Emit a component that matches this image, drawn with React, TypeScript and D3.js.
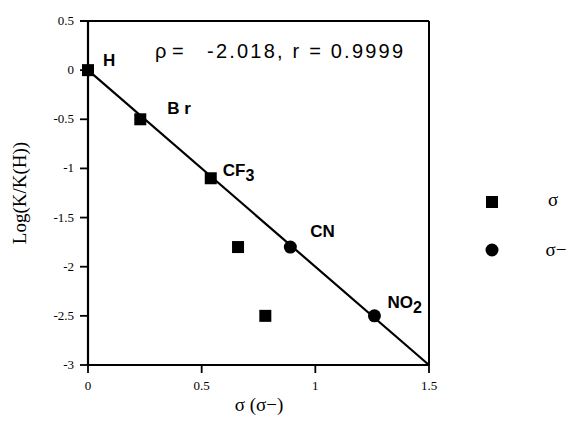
import React from "react";
import * as d3 from "d3";

const sigmaX = [0, 0.23, 0.54, 0.66, 0.78];
const sigmaY = [0, -0.5, -1.1, -1.8, -2.5];
const sigmaMinusX = [0.89, 1.26];
const sigmaMinusY = [-1.8, -2.5];
const lineX = [0, 1.5];
const lineY = [0, -3];
const xTicks = [0, 0.5, 1, 1.5];
const yTicks = [0.5, 0, -0.5, -1, -1.5, -2, -2.5, -3];
const pointLabels = [
  { x: 0, y: 0, text: "H", sub: "" },
  { x: 0.23, y: -0.5, text: "B r", sub: "" },
  { x: 0.54, y: -1.1, text: "CF", sub: "3" },
  { x: 0.89, y: -1.8, text: "CN", sub: "" },
  { x: 1.26, y: -2.5, text: "NO", sub: "2" },
];
const labelOffsets = [
  [15, -4],
  [27, -5],
  [12, -2],
  [20, -10],
  [13, -8],
];

export default function App() {
  const W = 574, H = 427;
  const x = d3.scaleLinear().domain([0, 1.5]).range([88, 429]);
  const y = d3.scaleLinear().domain([-3, 0.5]).range([365, 21]);
  const serif = "'Liberation Serif', 'Times New Roman', serif";
  const sans = "'Liberation Sans', Arial, sans-serif";
  const line = d3.line<number>().x((d, i) => x(lineX[i])).y((d, i) => y(lineY[i]));
  const fmt = (v: number) => (v === 0 ? "0" : String(v));
  return (
    <svg width={W} height={H} style={{ position: "absolute", left: 0, top: 0, background: "#fff" }}>
      <rect x={0} y={0} width={W} height={H} fill="#fff" />
      {/* frame */}
      <line x1={x(0) - 8} y1={y(0.5)} x2={x(1.5)} y2={y(0.5)} stroke="#000" strokeWidth={2} />
      <line x1={x(1.5)} y1={y(0.5)} x2={x(1.5)} y2={y(-3)} stroke="#000" strokeWidth={2} />
      <line x1={x(0)} y1={y(0.5)} x2={x(0)} y2={y(-3)} stroke="#000" strokeWidth={2.2} />
      <line x1={x(0)} y1={y(-3)} x2={x(1.5)} y2={y(-3)} stroke="#000" strokeWidth={2.2} />
      {/* y ticks */}
      {yTicks.map((t) => (
        <g key={"y" + t}>
          <line x1={x(0) - 8} x2={x(0)} y1={y(t)} y2={y(t)} stroke="#000" strokeWidth={1.8} />
          <text x={x(0) - 14} y={y(t) + 4} textAnchor="end" fontFamily={serif} fontSize={13}>
            {fmt(t)}
          </text>
        </g>
      ))}
      {/* x ticks */}
      {xTicks.map((t) => (
        <g key={"x" + t}>
          <line x1={x(t)} x2={x(t)} y1={y(-3)} y2={y(-3) + 8} stroke="#000" strokeWidth={1.8} />
          <text x={x(t)} y={y(-3) + 25} textAnchor="middle" fontFamily={serif} fontSize={13}>
            {fmt(t)}
          </text>
        </g>
      ))}
      {/* regression line */}
      <path d={line(lineX) || ""} fill="none" stroke="#000" strokeWidth={2.2} />
      {/* sigma squares */}
      {sigmaX.map((v, i) => (
        <rect key={"s" + i} x={x(v) - 6} y={y(sigmaY[i]) - 6} width={12} height={12} fill="#000" />
      ))}
      {/* sigma minus circles */}
      {sigmaMinusX.map((v, i) => (
        <circle key={"c" + i} cx={x(v)} cy={y(sigmaMinusY[i])} r={6.5} fill="#000" />
      ))}
      {/* point labels */}
      {pointLabels.map((p, i) => (
        <text
          key={"l" + i}
          x={x(p.x) + labelOffsets[i][0]}
          y={y(p.y) + labelOffsets[i][1]}
          fontFamily={sans}
          fontWeight="bold"
          fontSize={17}
        >
          {p.text}
          {p.sub && (
            <tspan dy={5} fontSize={16}>
              {p.sub}
            </tspan>
          )}
        </text>
      ))}
      {/* annotation */}
      <text x={155} y={58} fontFamily={sans} fontSize={20}>
        ρ =
      </text>
      <text x={207} y={58} fontFamily={sans} fontSize={20} textLength={196} lengthAdjust="spacing">
        -2.018, r = 0.9999
      </text>
      {/* axis labels */}
      <text
        transform={`translate(26, ${y(-1.25)}) rotate(-90)`}
        textAnchor="middle"
        fontFamily={serif}
        fontSize={19}
      >
        Log(K/K(H))
      </text>
      <text x={259} y={411} textAnchor="middle" fontFamily={serif} fontSize={19}>
        σ (σ−)
      </text>
      {/* legend */}
      <rect x={486} y={196} width={12} height={12} fill="#000" />
      <text x={553} y={206} textAnchor="middle" fontFamily={serif} fontSize={19}>
        σ
      </text>
      <circle cx={492} cy={250} r={6.5} fill="#000" />
      <text x={556} y={256} textAnchor="middle" fontFamily={serif} fontSize={19}>
        σ−
      </text>
    </svg>
  );
}
